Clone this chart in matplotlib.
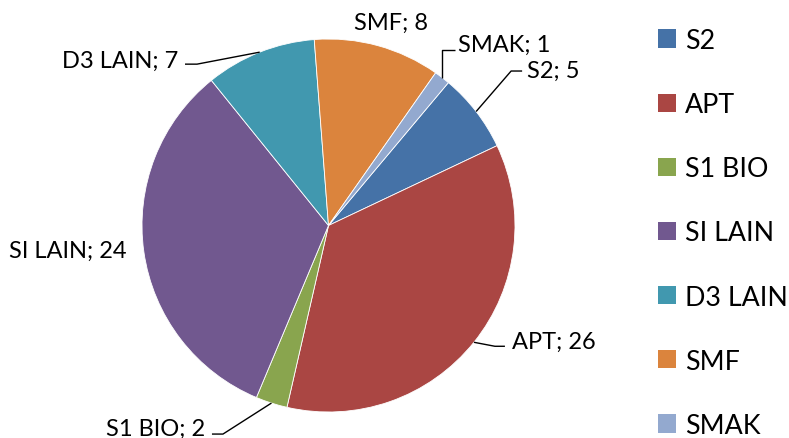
import numpy as np
import matplotlib
matplotlib.use("Agg")
import matplotlib.pyplot as plt
from matplotlib.patches import Patch

categories = ["S2", "APT", "S1 BIO", "SI LAIN", "D3 LAIN", "SMF", "SMAK"]
values = [5, 26, 2, 24, 7, 8, 1]
colors = ["#4572A7", "#AA4643", "#89A54E", "#71588F", "#4198AF", "#DB843D", "#93A9CF"]

plt.rcParams['font.family'] = ['Lato', 'DejaVu Sans']

W, H = 789, 439
fig = plt.figure(figsize=(W / 100, H / 100), dpi=100)
ax = fig.add_axes([0, 0, 1, 1])

# pie geometry in pixel units (y measured from the top)
cx, cy_top, R = 328.5, 226.5, 186.5
wedges, _ = ax.pie(values, colors=colors, startangle=50, counterclock=False,
                   center=(cx, H - cy_top), radius=R,
                   wedgeprops=dict(edgecolor='white', linewidth=0.6))
ax.set_xlim(0, W)
ax.set_ylim(0, H)
ax.set_aspect('equal')
ax.axis('off')

# label layout: text offset from slice mid-edge (px, y downward), alignment, leader elbow offsets
layout = {
    "S2":      dict(off=(51, -34.5), ha='left',   leader=[(35, -40.5), (46, -40.5)]),
    "APT":     dict(off=(38, 5.5),   ha='left',   leader=[(21, 4), (31, 4)]),
    "S1 BIO":  dict(off=(-66.5, 32), ha='right',  leader=[(-48.5, 31), (-59.5, 31)]),
    "SI LAIN": dict(off=(-17, 5.3),  ha='right',  leader=None),
    "D3 LAIN": dict(off=(-81.7, 14.5), ha='right', leader=[(-62.7, 12), (-74.7, 12)]),
    "SMF":     dict(off=(13, -17),   ha='center', leader=None),
    "SMAK":    dict(off=(16, -26.6), ha='left',   leader=[(0, -27.6), (13, -27.6)]),
}

for w, cat, val in zip(wedges, categories, values):
    mid = np.deg2rad((w.theta1 + w.theta2) / 2)
    axp = cx + R * np.cos(mid)
    ayp = cy_top - R * np.sin(mid)
    spec = layout[cat]
    tx = axp + spec['off'][0]
    ty = ayp + spec['off'][1]
    ax.text(tx, H - ty, f"{cat}; {val}", ha=spec['ha'], va='baseline',
            fontsize=17, color='black')
    if spec['leader']:
        xs = [axp] + [axp + dx for dx, dy in spec['leader']]
        ys = [H - ayp] + [H - (ayp + dy) for dx, dy in spec['leader']]
        ax.plot(xs, ys, color='black', lw=1.0, solid_capstyle='butt')

handles = [Patch(facecolor=c, edgecolor='none') for c in colors]
ax.legend(handles, categories, loc='upper left', bbox_to_anchor=(658 / W, 1 - 29 / H),
          frameon=False, fontsize=19.3, handlelength=0.68, handleheight=0.68,
          handletextpad=0.33, labelspacing=1.46, borderpad=0, borderaxespad=0)

fig.savefig("out.png", dpi=100)
